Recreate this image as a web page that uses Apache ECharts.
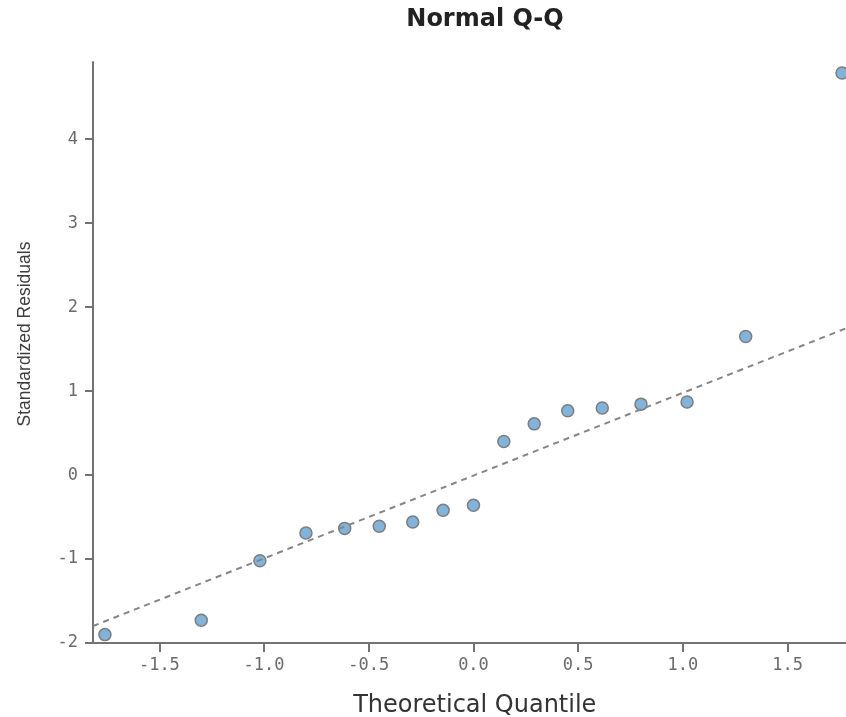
<!DOCTYPE html>
<html>
<head>
<meta charset="utf-8">
<title>Normal Q-Q</title>
<script src="https://cdn.jsdelivr.net/npm/echarts@6/dist/echarts.min.js"></script>
<style>
  html, body { margin: 0; padding: 0; background: #fff; overflow: hidden; }
  #chart { width: 846px; height: 717px; }
</style>
</head>
<body>
<div id="chart"></div>
<script>
// points
const theoreticalQuantiles = [-1.76, -1.30, -1.02, -0.80, -0.615, -0.45, -0.29, -0.145, 0.0,
  0.145, 0.29, 0.45, 0.615, 0.80, 1.02, 1.30, 1.76];
const standardizedResiduals = [-1.90, -1.73, -1.02, -0.69, -0.635, -0.61, -0.56, -0.42, -0.36,
  0.40, 0.61, 0.765, 0.80, 0.845, 0.87, 1.65, 4.79];

// dashed reference line (end points)
const refLineX = [-1.817, 1.853];
const refLineY = [-1.798, 1.821];

const xTicks = [-1.5, -1.0, -0.5, 0.0, 0.5, 1.0, 1.5];
const yTicks = [-2, -1, 0, 1, 2, 3, 4];

const axisGray = '#737373';
const tickFont = { fontFamily: 'DejaVu Sans Mono', fontSize: 17, color: '#6b6b6b' };

const chart = echarts.init(document.getElementById('chart'));

const option = {
  animation: false,
  backgroundColor: '#fff',
  title: {
    text: 'Normal Q-Q',
    left: 480,
    top: 3,
    textAlign: 'center',
    textStyle: { fontFamily: 'DejaVu Sans', fontWeight: 'bold', fontSize: 24, color: '#222' },
  },
  // the plot runs a little past the right edge of the picture
  grid: { left: 93, top: 62, width: 768.5, height: 581, containLabel: false, outerBoundsMode: 'none' },
  xAxis: {
    type: 'value',
    min: -1.817,
    max: 1.853,
    name: 'Theoretical Quantile',
    nameLocation: 'middle',
    nameGap: 51,
    nameTextStyle: { fontFamily: 'DejaVu Sans', fontSize: 24, color: '#333', padding: [0, 5, 0, 0] },
    splitLine: { show: false },
    axisLine: { onZero: false, lineStyle: { color: axisGray, width: 2 } },
    axisTick: { customValues: xTicks, length: 9, lineStyle: { color: axisGray, width: 2 } },
    axisLabel: {
      customValues: xTicks,
      margin: 14,
      formatter: (v) => v.toFixed(1),
      ...tickFont,
    },
  },
  yAxis: {
    type: 'value',
    min: -2,
    max: 4.92,
    name: 'Standardized Residuals',
    nameLocation: 'middle',
    nameRotate: 90,
    nameGap: 59,
    nameTextStyle: { fontFamily: 'Liberation Sans', fontSize: 17.5, color: '#3d3d3d', padding: [0, 0, 0, 37] },
    splitLine: { show: false },
    axisLine: { show: true, onZero: false, lineStyle: { color: axisGray, width: 2 } },
    axisTick: { show: true, customValues: yTicks, length: 8, lineStyle: { color: axisGray, width: 2 } },
    axisLabel: { customValues: yTicks, margin: 15, ...tickFont },
  },
  series: [
    {
      type: 'scatter',
      clip: false,
      symbolSize: 12,
      itemStyle: { color: '#82b3db', borderColor: '#7d7d7d', borderWidth: 1.5, opacity: 1 },
      data: theoreticalQuantiles.map((q, i) => [q, standardizedResiduals[i]]),
      z: 2,
    },
    {
      type: 'line',
      showSymbol: false,
      silent: true,
      lineStyle: { color: '#858585', width: 2, type: [6, 5] },
      data: refLineX.map((x, i) => [x, refLineY[i]]),
      z: 3,
    },
  ],
};

chart.setOption(option);
</script>
</body>
</html>
